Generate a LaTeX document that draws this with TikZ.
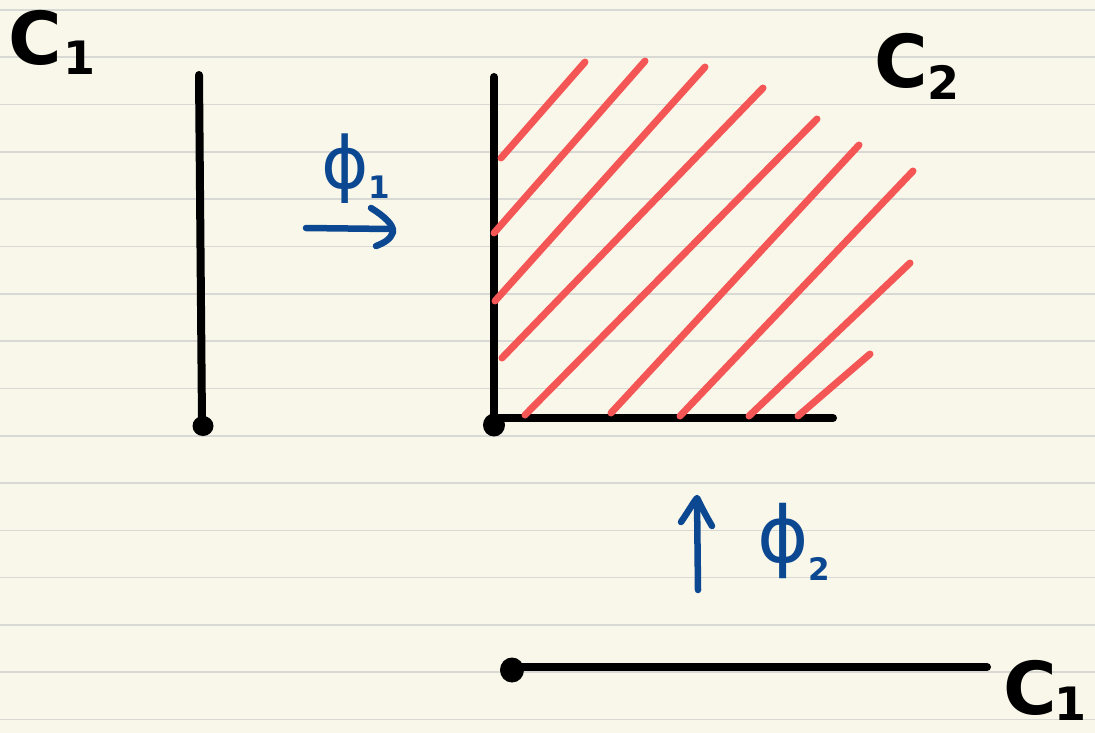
\documentclass[tikz,border=0pt]{standalone}
\usepackage{fontspec}
\newfontfamily\hand{DejaVu Sans}[BoldFont={DejaVu Sans Bold}]
\definecolor{paper}{RGB}{249,247,233}
\definecolor{ruleline}{RGB}{216,216,212}
\definecolor{hatch}{RGB}{244,86,86}
\definecolor{ink}{RGB}{12,72,145}
\newcommand\lblsub[2]{\raisebox{#1}{\fontsize{46}{46}\selectfont #2}}
\newcommand\inksub[2]{\raisebox{#1}{\fontsize{31}{31}\selectfont\bfseries #2}}
\begin{document}
\begin{tikzpicture}[x=1pt,y=-1pt,line cap=round,line join=round,
  blackline/.style={line width=8pt,black},
  hatchline/.style={line width=7pt,hatch},
  inkline/.style={line width=6.5pt,ink},
  dotmark/.style={fill=black},
  bigtext/.style={inner sep=0pt,anchor=base west,font=\hand\bfseries\fontsize{73}{73}\selectfont},
  inktext/.style={inner sep=0pt,anchor=base west,text=ink}]
% paper
\fill[paper] (0,0) rectangle (1095,733);
\useasboundingbox (0,0) rectangle (1095,733);
\foreach \k in {0,...,15}{
  \draw[ruleline,line width=1.6pt,line cap=butt] (0,{10+47.3*\k}) -- (1095,{10+47.3*\k});
}
% labels
\node[bigtext] (c1a) at (8,65) {C\hspace{2pt}\lblsub{-10pt}{1}};
\node[bigtext] (c2) at (874,88) {C\lblsub{-12pt}{2}};
\node[bigtext] (c1b) at (1003,714) {C\hspace{-2pt}\lblsub{-6pt}{1}};
% left segment
\coordinate (la) at (199,75);
\coordinate (lb) at (202,422);
\draw[blackline] (la) -- (lb);
\fill[dotmark] (203,426) ellipse [x radius=10.5pt,y radius=10pt];
% corner
\coordinate (ctop) at (494,77);
\coordinate (corner) at (494,418);
\coordinate (cright) at (833,418);
\draw[blackline] (ctop) -- (494,425);
\draw[blackline] (corner) -- (cright);
\fill[dotmark] (494,425) ellipse [x radius=11pt,y radius=11.5pt];
% bottom segment
\coordinate (ba) at (512,667);
\coordinate (bb) at (987,667);
\draw[blackline] (ba) -- (bb);
\fill[dotmark] (512,670) ellipse [x radius=12pt,y radius=12.5pt];
% hatch
\foreach \i/\ax/\ay/\bx/\by in {1/501/158/585/62,2/494/233/645/61,3/495/301/705/67,4/502/358/763/88,5/525/415/817/119,6/611/413/859/145,7/680/416/913/171,8/749/416/910/263,9/798/416/870/354}{
  \coordinate (h\i a) at (\ax,\ay);
  \coordinate (h\i b) at (\bx,\by);
  \draw[hatchline] (h\i a) -- (h\i b);
}
% phi1 arrow
\coordinate (p1s) at (306,228);
\coordinate (p1e) at (390,229);
\draw[inkline] (p1s) -- (p1e);
\draw[inkline] (371,208) .. controls (384,216) and (394,225) .. (393,232) .. controls (391,239) and (384,243) .. (376,246);
\node[inktext,font=\hand\fontsize{72}{72}\selectfont] (phi1) at (321,188) {ϕ\inksub{-10pt}{1}};
% phi2 arrow
\coordinate (p2s) at (698,590);
\coordinate (p2e) at (697,499);
\draw[inkline] (p2s) -- (p2e);
\draw[inkline] (681,522) .. controls (688,512) and (693,503) .. (697,498) .. controls (701,506) and (706,516) .. (712,526);
\node[inktext,font=\hand\fontsize{78}{78}\selectfont] (phi2) at (757,562) {ϕ\inksub{-18pt}{2}};
\end{tikzpicture}
\end{document}
